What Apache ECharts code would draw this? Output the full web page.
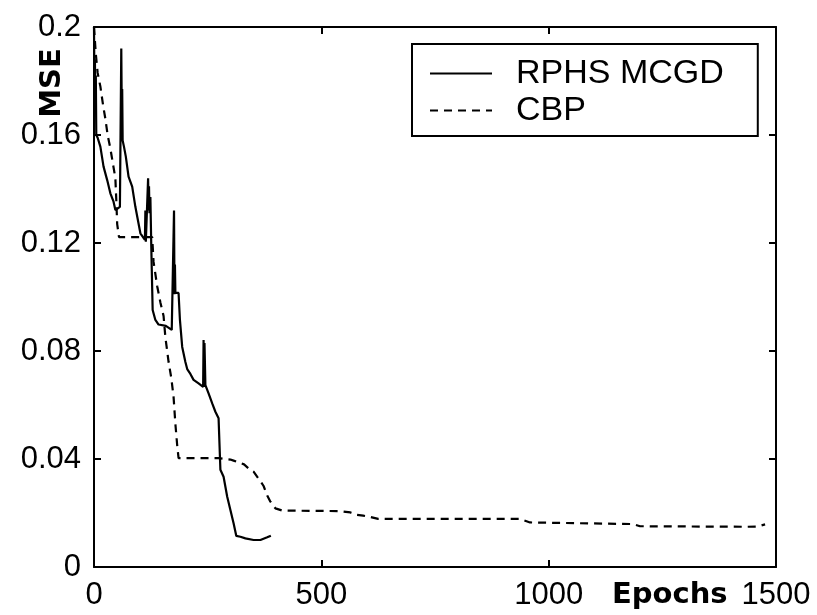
<!DOCTYPE html>
<html>
<head>
<meta charset="utf-8">
<script src="https://cdn.jsdelivr.net/npm/echarts@6/dist/echarts.min.js"></script>
<style>
  html, body { margin: 0; padding: 0; background: #fff; }
  #chart { width: 817px; height: 615px; }
</style>
</head>
<body>
<div id="chart"></div>
<script>
// Training curves: mean squared error versus epochs for two methods.
const seriesNames = ['RPHS MCGD', 'CBP'];

// [epoch, MSE] for RPHS MCGD (spiky descent, stops near epoch 390)
const rphsMcgd = [
  [0, 0.2], [1, 0.178], [2, 0.188], [3, 0.172], [4, 0.182], [5, 0.16], [8, 0.159],
  [14, 0.1557], [21, 0.1483], [29, 0.1433], [36, 0.1384], [43, 0.1353], [47, 0.1322],
  [57, 0.1334], [60, 0.192], [61, 0.17], [62, 0.177], [63, 0.158], [66, 0.1556],
  [70, 0.152], [76, 0.1446], [84, 0.1409], [91, 0.1334], [102, 0.1236], [112, 0.1212],
  [113, 0.132], [114, 0.1205], [118, 0.1198], [119, 0.144], [120, 0.132], [121, 0.141],
  [122, 0.131], [124, 0.137], [126, 0.1186], [128, 0.1186], [129, 0.0952], [135, 0.0915],
  [142, 0.0898], [158, 0.0893], [171, 0.0878], [175, 0.088], [176, 0.132], [177, 0.101],
  [178, 0.112], [179, 0.1015], [186, 0.1015], [189, 0.0915], [194, 0.0815], [201, 0.0759],
  [205, 0.0733], [212, 0.0715], [219, 0.0693], [230, 0.068], [240, 0.0667], [241, 0.0841],
  [242, 0.0667], [243, 0.083], [245, 0.0674], [252, 0.0643], [260, 0.0606], [267, 0.0575],
  [274, 0.0551], [277, 0.0551], [278, 0.036], [285, 0.0334], [293, 0.026], [300, 0.0211],
  [307, 0.0162], [313, 0.0115], [322, 0.0112], [333, 0.0106], [351, 0.01], [366, 0.01],
  [381, 0.011], [389, 0.0116]
];

// [epoch, MSE] for CBP (staircase descent, long flat tail)
const cbp = [
  [0, 0.2], [4, 0.19], [8, 0.183], [14, 0.178], [20, 0.171], [25, 0.166], [30, 0.16],
  [36, 0.155], [42, 0.149], [47, 0.144], [49, 0.136], [51, 0.127], [55, 0.1222],
  [128, 0.1222], [131, 0.113], [139, 0.104], [146, 0.098], [153, 0.093], [157, 0.085],
  [161, 0.08], [164, 0.076], [170, 0.07], [175, 0.063], [179, 0.053], [183, 0.045],
  [186, 0.0403], [274, 0.0403], [300, 0.0398], [307, 0.0394], [330, 0.038], [340, 0.0365],
  [351, 0.0353], [365, 0.032], [373, 0.03], [381, 0.0265], [388, 0.0242], [399, 0.0217],
  [414, 0.0209], [542, 0.0207], [564, 0.0202], [578, 0.0193], [592, 0.019], [608, 0.0185],
  [625, 0.0178], [937, 0.0178], [959, 0.0165], [1186, 0.0159], [1201, 0.0151],
  [1436, 0.0149], [1460, 0.015], [1476, 0.0158]
];

const xTicks = { min: 0, max: 1500, step: 500 };
const yTicks = { min: 0, max: 0.2, step: 0.04 };
const xName = 'Epochs';
const yName = 'MSE';

const ink = '#000';
const tickFont = 'Liberation Sans';
const boldFont = 'DejaVu Sans';

function frameLine() {
  return { show: true, onZero: false, lineStyle: { color: ink, width: 2 } };
}
function innerTick() {
  return { show: true, inside: true, length: 7, lineStyle: { color: ink, width: 2 } };
}
const plainNumber = v => String(Math.round(v * 1000) / 1000);

const chart = echarts.init(document.getElementById('chart'), null, { renderer: 'canvas' });

chart.setOption({
  animation: false,
  backgroundColor: '#fff',
  grid: { left: 94, right: 41, top: 27, bottom: 48, containLabel: false },
  xAxis: [
    {
      type: 'value', position: 'bottom',
      min: xTicks.min, max: xTicks.max, interval: xTicks.step,
      axisLine: frameLine(), axisTick: innerTick(), splitLine: { show: false },
      axisLabel: { margin: 13, color: ink, fontFamily: tickFont, fontSize: 31, formatter: plainNumber }
    },
    {
      type: 'value', position: 'top',
      min: xTicks.min, max: xTicks.max, interval: xTicks.step,
      axisLine: frameLine(), axisTick: innerTick(), splitLine: { show: false },
      axisLabel: { show: false }
    }
  ],
  yAxis: [
    {
      type: 'value', position: 'left',
      min: yTicks.min, max: yTicks.max, interval: yTicks.step,
      axisLine: frameLine(), axisTick: innerTick(), splitLine: { show: false },
      axisLabel: { margin: 13, color: ink, fontFamily: tickFont, fontSize: 31, formatter: plainNumber }
    },
    {
      type: 'value', position: 'right',
      min: yTicks.min, max: yTicks.max, interval: yTicks.step,
      axisLine: frameLine(), axisTick: innerTick(), splitLine: { show: false },
      axisLabel: { show: false }
    }
  ],
  legend: {
    orient: 'vertical',
    left: 412, top: 44,
    padding: [12, 34, 8, 17],
    itemWidth: 62, itemHeight: 16, itemGap: 2,
    borderColor: ink, borderWidth: 2, borderRadius: 0,
    backgroundColor: '#fff',
    selectedMode: false,
    itemStyle: { color: 'rgba(0,0,0,0)', borderWidth: 0 },
    textStyle: { color: ink, fontFamily: tickFont, fontSize: 34, lineHeight: 35, padding: [0, 0, 0, 19] },
    data: seriesNames
  },
  series: [
    {
      name: seriesNames[0], type: 'line', data: rphsMcgd,
      xAxisIndex: 0, yAxisIndex: 0,
      symbol: 'none', smooth: false,
      lineStyle: { color: ink, width: 2.2, type: 'solid' },
      itemStyle: { color: ink }
    },
    {
      name: seriesNames[1], type: 'line', data: cbp,
      xAxisIndex: 0, yAxisIndex: 0,
      symbol: 'none', smooth: false,
      lineStyle: { color: ink, width: 2.2, type: [8, 6] },
      itemStyle: { color: ink }
    }
  ],
  graphic: [
    {
      type: 'text', x: 612, y: 595,
      style: { text: xName, fill: ink, font: 'bold 29px "' + boldFont + '"', align: 'left', verticalAlign: 'middle' }
    },
    {
      type: 'text', x: 52, y: 83, rotation: Math.PI / 2,
      style: { text: yName, fill: ink, font: 'bold 29px "' + boldFont + '"', align: 'center', verticalAlign: 'middle' }
    }
  ]
});
</script>
</body>
</html>
